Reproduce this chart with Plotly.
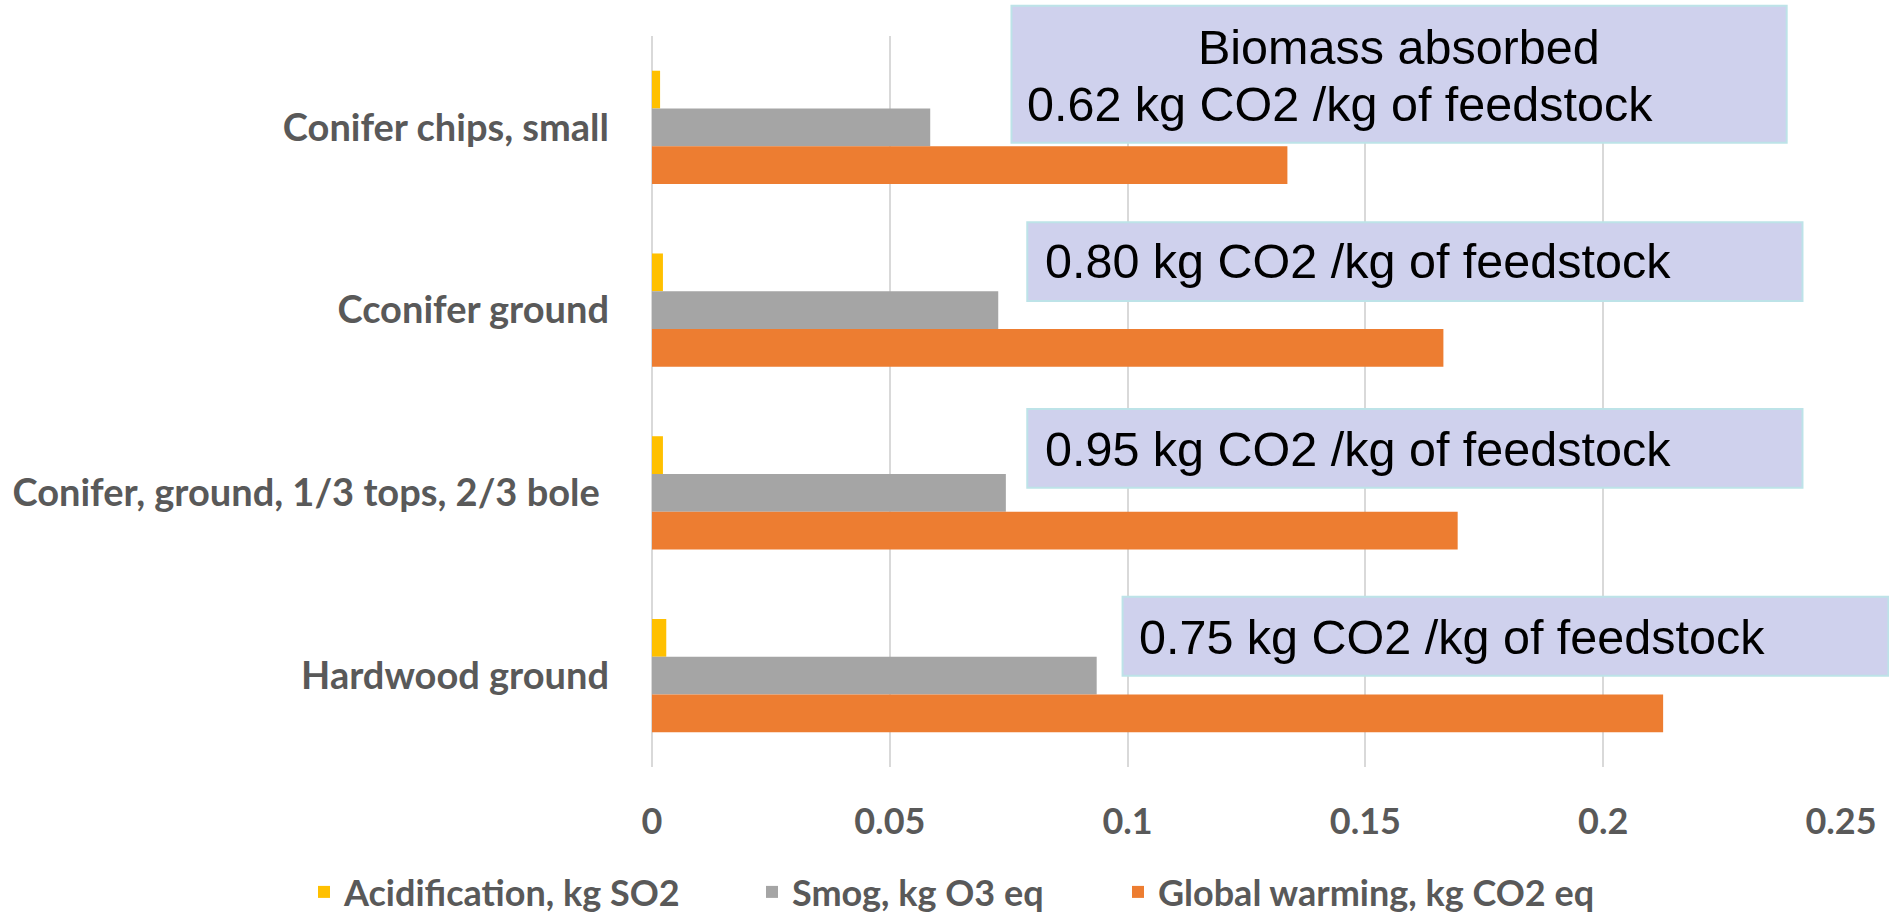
import plotly.graph_objects as go

categories = [
    "Conifer chips, small",
    "Cconifer ground",
    "Conifer, ground, 1/3 tops, 2/3 bole\u00a0",
    "Hardwood ground",
]
acidification = [0.0017, 0.0023, 0.0023, 0.0030]
smog = [0.0585, 0.0728, 0.0744, 0.0935]
global_warming = [0.1336, 0.1664, 0.1694, 0.2126]
series_names = ["Acidification, kg SO2", "Smog, kg O3 eq", "Global warming, kg CO2 eq"]
series_colors = ["#FFC000", "#A5A5A5", "#ED7D31"]
x_ticks = [0, 0.05, 0.1, 0.15, 0.2, 0.25]
x_tick_labels = ["0", "0.05", "0.1", "0.15", "0.2", "0.25"]

note_lines = [
    "Biomass absorbed",
    "0.62 kg CO2 /kg of feedstock",
    "0.80 kg CO2 /kg of feedstock",
    "0.95 kg CO2 /kg of feedstock",
    "0.75 kg CO2 /kg of feedstock",
]

fig = go.Figure()
legend_ids = ["legend", "legend2", "legend3"]
for name, vals, col, lg in zip(series_names, [acidification, smog, global_warming], series_colors, legend_ids):
    fig.add_trace(go.Bar(
        y=categories, x=vals, name=name, orientation="h",
        marker=dict(color=col, line=dict(width=0)), legend=lg, showlegend=True,
    ))

W, H = 1889, 922
# plot area in window pixels: x 643..1847, y 36..767
ml, mt = 643, 36
mr = W - 1847
mb = H - 767
pw, ph = W - ml - mr, H - mt - mb

def px(xw):
    return (xw - ml) / pw

def py(yw):
    return (H - mb - yw) / ph

# annotation boxes, pixel geometry
boxes = [
    (1007, 5.7, 1792, 142.7),
    (1023, 222.3, 1808, 301),
    (1023, 409, 1808, 487.7),
    (1119.5, 596.7, 1895, 675.7),
]
shapes = []
for (x0, y0, x1, y1) in boxes:
    shapes.append(dict(type="rect", xref="paper", yref="paper",
                       x0=px(x0), x1=px(x1), y0=py(y1), y1=py(y0),
                       fillcolor="#CFD1ED", line=dict(color="#BDE3E8", width=2),
                       layer="above"))

note_pos = [
    (1399, 47, "center"),
    (1021, 104, "left"),
    (1039, 261, "left"),
    (1039, 449, "left"),
    (1134, 637, "left"),
]
annotations = []
for txt, (x, y, anc) in zip(note_lines, note_pos):
    annotations.append(dict(text=txt, xref="paper", yref="paper", x=px(x), y=py(y),
                            xanchor=anc, yanchor="middle", showarrow=False,
                            font=dict(family="Liberation Sans", size=48.5, color="#000000")))

leg_font = dict(family="Lato", size=36, color="#595959", weight="bold")
leg_common = dict(orientation="h", xref="container", yref="container",
                  yanchor="bottom", xanchor="left", y=0,
                  font=leg_font, bgcolor="rgba(0,0,0,0)", borderwidth=0)
legend_x = [304, 752, 1118]

fig.update_layout(
    width=W, height=H, showlegend=True,
    margin=dict(l=ml, r=mr, t=mt, b=mb, pad=0),
    paper_bgcolor="white", plot_bgcolor="white",
    barmode="group", bargap=0.38, bargroupgap=0,
    shapes=shapes, annotations=annotations,
    legend=dict(x=legend_x[0] / W, **leg_common),
    legend2=dict(x=legend_x[1] / W, **leg_common),
    legend3=dict(x=legend_x[2] / W, **leg_common),
    xaxis=dict(range=[0, 0.25], tickvals=x_ticks, ticktext=x_tick_labels,
               showgrid=True, gridcolor="#D9D9D9", gridwidth=2,
               zeroline=True, zerolinecolor="#D9D9D9", zerolinewidth=2,
               showline=False, ticks="", ticklabeloverflow="allow",
               tickfont=dict(family="Lato", size=36, color="#595959", weight="bold"),
               ticklabelstandoff=30),
    yaxis=dict(autorange="reversed", showgrid=False, showline=False, ticks="",
               tickfont=dict(family="Lato", size=38, color="#595959", weight="bold"),
               ticklabelstandoff=42),
)

# remove the default 8px page margin so the 1889x922 figure fills the window exactly
fig.write_html("out.html", config={"displayModeBar": False},
               post_script="document.body.style.margin='0';")
